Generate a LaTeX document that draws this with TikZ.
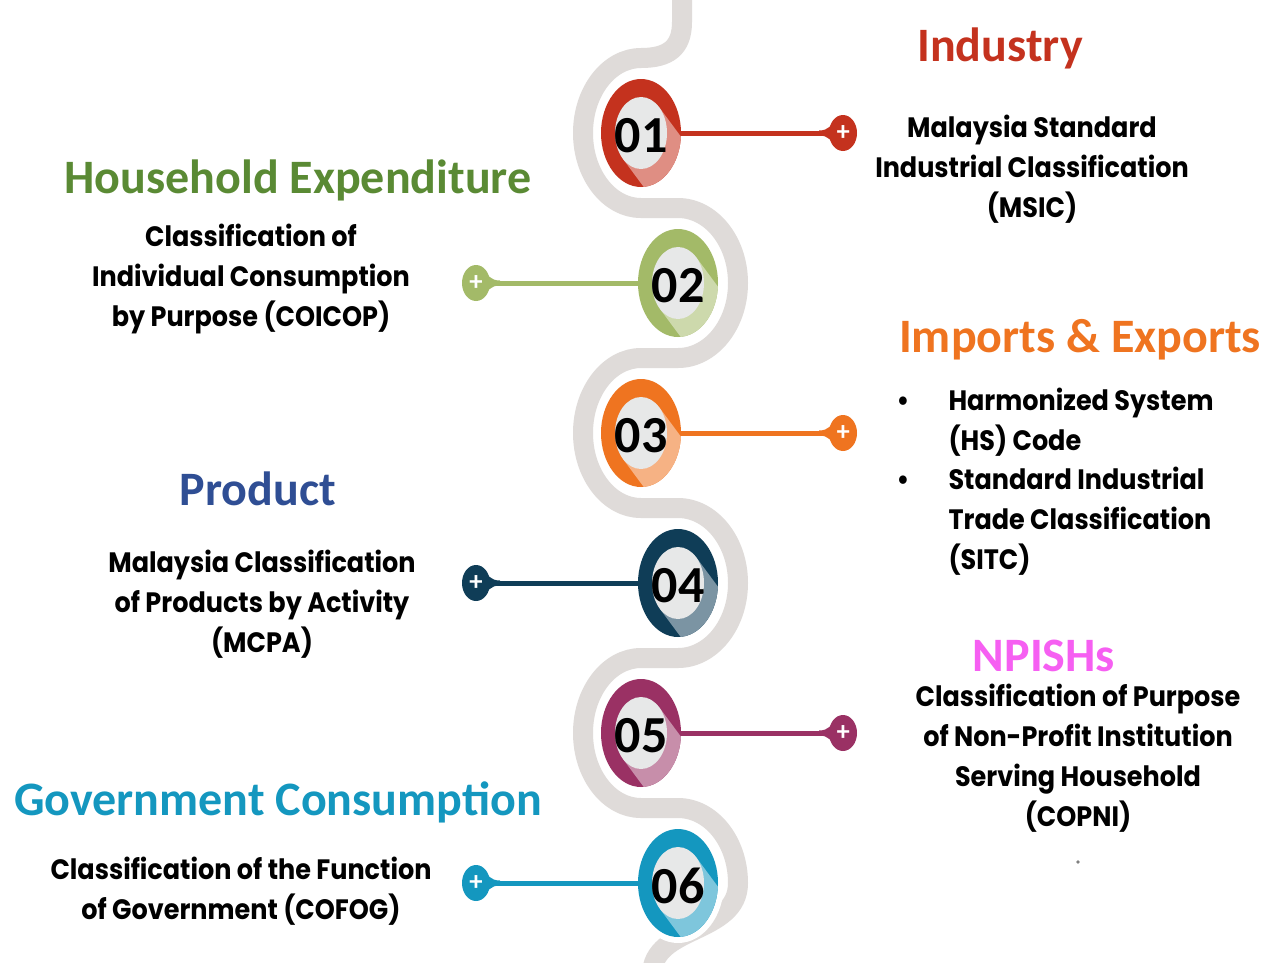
\documentclass[tikz,border=0pt]{standalone}
\usepackage{fontspec}
\usetikzlibrary{shapes.geometric,calc}
\newfontfamily\headfont{Carlito}
\newfontfamily\bodyfont{Poppins}
\definecolor{snakegray}{HTML}{DFDBD9}
\definecolor{innergray}{HTML}{E7E8E8}
\definecolor{indred}{HTML}{C4321E}
\definecolor{hhgreen}{HTML}{A3BA68}
\definecolor{hhtext}{HTML}{5A8A34}
\definecolor{exporange}{HTML}{EF7420}
\definecolor{prodblue}{HTML}{0F3D57}
\definecolor{prodtext}{HTML}{2F4E94}
\definecolor{npishpurple}{HTML}{9A3164}
\definecolor{npishtext}{HTML}{F65FF2}
\definecolor{govblue}{HTML}{1497BF}

\begin{document}
\begin{tikzpicture}[x=1pt,y=-1pt,
    heading/.style={font=\headfont\bfseries\fontsize{48}{52}\selectfont},
    body/.style={font=\bodyfont\bfseries\fontsize{25.5}{36.3}\selectfont, align=center, yscale=1.1},
    badge/.style={ellipse, minimum width=80, minimum height=108, inner sep=0},
    numtext/.style={inner sep=0, font=\headfont\bfseries\fontsize{52}{52}\selectfont},
    pin/.style={ellipse, minimum width=28, minimum height=36, inner sep=0, text=white, font=\headfont\bfseries\fontsize{27}{27}\selectfont},
    link/.style={line width=5}]
    \useasboundingbox (0,0) rectangle (1267,962);
    \fill[white] (0,0) rectangle (1267,962);

    % Winding band
    \draw[snakegray, line width=20] (682,0) -- (682,22) .. controls (682,48) and (668,58) .. (641,58)
        arc[start angle=270, end angle=90, x radius=58, y radius=75] -- (678,208)
        arc[start angle=-90, end angle=90, x radius=60, y radius=75] -- (641,358)
        arc[start angle=270, end angle=90, x radius=58, y radius=75] -- (678,508)
        arc[start angle=-90, end angle=90, x radius=60, y radius=75] -- (641,658)
        arc[start angle=270, end angle=90, x radius=58, y radius=75] -- (678,808)
        arc[start angle=-90, end angle=0, x radius=60, y radius=75]
        .. controls (738,935) and (652,925) .. (652,975);

    % Numbered badges
    \foreach \n/\cx/\cy/\col in {01/641/133/indred, 02/678/283/hhgreen, 03/641/433/exporange,
                                 04/678/583/prodblue, 05/641/733/npishpurple, 06/678/883/govblue} {
        \fill[white] (\cx,\cy) ellipse (46 and 60);
        \node[badge, fill=\col] (b\n) at (\cx,\cy) {};
        \begin{scope}
            \clip (\cx,\cy) ellipse (40 and 54);
            \fill[\col!55!white] (\cx,\cy) ++(18,-26) -- ++(100,135) -- ++(-36,52) -- ++(-100,-135) -- cycle;
        \end{scope}
        \fill[innergray] (\cx,\cy) ellipse (26 and 36);
        \node[numtext] (t\n) at (\cx,\cy+3) {\n};
    }

    % Pins and connectors
    \foreach \n/\px/\py/\col/\s in {01/843/133/indred/1, 02/476/283/hhgreen/-1, 03/843/433/exporange/1,
                                    04/476/583/prodblue/-1, 05/843/733/npishpurple/1, 06/476/883/govblue/-1} {
        \node[pin, fill=\col] (p\n) at (\px,\py) {+};
        \draw[link, \col] (b\n) -- (p\n);
        \fill[\col] ($(p\n)+(-24*\s,-2.5)$) .. controls ($(p\n)+(-14*\s,-2.5)$) and ($(p\n)+(-12*\s,-8)$) .. ($(p\n)+(-6*\s,-15)$)
            -- ($(p\n)+(-6*\s,15)$) .. controls ($(p\n)+(-12*\s,8)$) and ($(p\n)+(-14*\s,2.5)$) .. ($(p\n)+(-24*\s,2.5)$) -- cycle;
    }

    % Industry
    \node[heading, text=indred] (ind) at (1000,48) {Industry};
    \node[body] (indtxt) at (1032,169) {Malaysia Standard\\Industrial Classification\\(MSIC)};

    % Household expenditure
    \node[heading, text=hhtext] (hh) at (298,180) {Household Expenditure};
    \node[body] (hhtxt) at (251,279) {Classification of\\Individual Consumption\\by Purpose (COICOP)};

    % Imports and exports
    \node[heading, text=exporange] (exp) at (1080,340) {Imports \& Exports};
    \node[body, anchor=west] (exptxt) at (893,482) {\begin{tabular}{@{}p{52pt}@{}l@{}}
        • & Harmonized System\\
          & (HS) Code\\
        • & Standard Industrial\\
          & Trade Classification\\
          & (SITC)
    \end{tabular}};

    % Product
    \node[heading, text=prodtext] (prod) at (258,489) {Product};
    \node[body] (prodtxt) at (262,604) {Malaysia Classification\\of Products by Activity\\(MCPA)};

    % NPISHs
    \node[heading, text=npishtext] (npi) at (1044,656) {NPISHs};
    \node[body] (npitxt) at (1078,758) {Classification of Purpose\\of Non-Profit Institution\\Serving Household\\(COPNI)};
    \node[circle, fill=gray, inner sep=1.3] (dot) at (1078,862) {};

    % Government consumption
    \node[heading, text=govblue] (gov) at (278,802) {Government Consumption};
    \node[body] (govtxt) at (241,891) {Classification of the Function\\of Government (COFOG)};
\end{tikzpicture}
\end{document}
